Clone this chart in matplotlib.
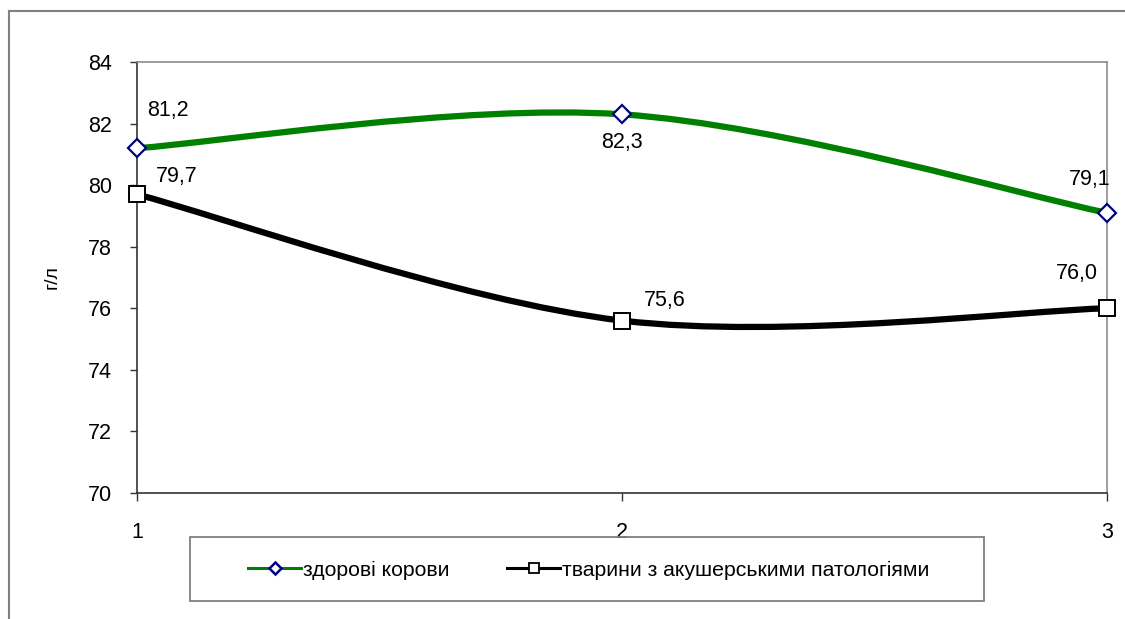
import matplotlib
matplotlib.use("Agg")
import matplotlib.pyplot as plt
from matplotlib.path import Path
from matplotlib.patches import PathPatch
from matplotlib.lines import Line2D
import numpy as np

plt.rcParams['font.family'] = ['Liberation Sans', 'DejaVu Sans']

x_vals = [1, 2, 3]
healthy = [81.2, 82.3, 79.1]
pathology = [79.7, 75.6, 76.0]
healthy_labels = ["81,2", "82,3", "79,1"]
pathology_labels = ["79,7", "75,6", "76,0"]
series_names = ["здорові корови", "тварини з акушерськими патологіями"]
y_ticks = [70, 72, 74, 76, 78, 80, 82, 84]
x_ticks = [1, 2, 3]
y_label = "г/л"

W, H = 1125, 619
fig = plt.figure(figsize=(W / 100, H / 100), dpi=100)
ax = fig.add_axes([137 / W, 1 - 493 / H, (1107 - 137) / W, (493 - 62) / H])


def smooth_path(xs, ys):
    pts = np.column_stack([xs, ys]).astype(float)
    n = len(pts)
    verts = [pts[0]]
    codes = [Path.MOVETO]
    for i in range(n - 1):
        p0 = pts[i - 1] if i > 0 else pts[i]
        p1 = pts[i]
        p2 = pts[i + 1]
        p3 = pts[i + 2] if i + 2 < n else pts[i + 1]
        c1 = p1 + (p2 - p0) / 6.0
        c2 = p2 - (p3 - p1) / 6.0
        verts += [c1, c2, p2]
        codes += [Path.CURVE4] * 3
    return Path(verts, codes)


green = '#008000'
ax.add_patch(PathPatch(smooth_path(x_vals, healthy), facecolor='none',
                       edgecolor=green, lw=4.5, capstyle='round', zorder=3))
ax.add_patch(PathPatch(smooth_path(x_vals, pathology), facecolor='none',
                       edgecolor='black', lw=4.5, capstyle='round', zorder=3))

ax.plot(x_vals, healthy, linestyle='none', marker='D', ms=9.5,
        mfc='white', mec='#000080', mew=1.6, zorder=4, clip_on=False)
ax.plot(x_vals, pathology, linestyle='none', marker='s', ms=11.5,
        mfc='white', mec='black', mew=1.4, zorder=4, clip_on=False)

h_off = [(31, 38), (0, -28), (-17, 33)]
p_off = [(40, 18), (43, 20), (-30, 35)]
for xv, yv, lab, off in zip(x_vals, healthy, healthy_labels, h_off):
    ax.annotate(lab, (xv, yv), xytext=off, textcoords='offset pixels',
                ha='center', va='center', fontsize=15.5, zorder=5)
for xv, yv, lab, off in zip(x_vals, pathology, pathology_labels, p_off):
    ax.annotate(lab, (xv, yv), xytext=off, textcoords='offset pixels',
                ha='center', va='center', fontsize=15.5, zorder=5)

ax.set_xlim(1, 3)
ax.set_ylim(70, 84)
ax.set_xticks(x_ticks)
ax.set_xticklabels([str(t) for t in x_ticks])
ax.set_yticks(y_ticks)
ax.set_yticklabels([str(t) for t in y_ticks])
ax.tick_params(axis='y', direction='out', length=5, width=1, pad=13,
               labelsize=15.5, color='#333333')
ax.tick_params(axis='x', direction='out', length=6, width=1, pad=15,
               labelsize=15.5, color='#333333')
for s in ['left', 'bottom']:
    ax.spines[s].set_color('#333333')
    ax.spines[s].set_linewidth(1.2)
for s in ['top', 'right']:
    ax.spines[s].set_color('#8c8c8c')
    ax.spines[s].set_linewidth(1.2)
ax.set_ylabel(y_label, fontsize=14)
ax.yaxis.set_label_coords(-(137 - 61) / (1107 - 137), 0.5)

handles = [
    Line2D([], [], color=green, lw=2.2, marker='D', ms=6, mfc='white',
           mec='#000080', mew=1.8),
    Line2D([], [], color='black', lw=2.2, marker='s', ms=7.5, mfc='white',
           mec='black', mew=1.3),
]
leg = fig.legend(handles, series_names, ncol=2, loc='center',
                 bbox_to_anchor=(589 / W, 1 - 570 / H),
                 fontsize=15.3, frameon=False, handlelength=2.5,
                 handletextpad=0.1, columnspacing=2.7)
fig.add_artist(plt.Rectangle((190 / W, 1 - 601 / H), (984 - 190) / W,
                             (601 - 537) / H, transform=fig.transFigure,
                             facecolor='none', edgecolor='#808080', lw=1.3))

fig.add_artist(Line2D([9 / W, 9 / W], [0, 1 - 11 / H], transform=fig.transFigure,
                      color='#808080', lw=1.5))
fig.add_artist(Line2D([9 / W, 1], [1 - 11 / H, 1 - 11 / H], transform=fig.transFigure,
                      color='#808080', lw=1.5))

fig.savefig('out.png', dpi=100)
